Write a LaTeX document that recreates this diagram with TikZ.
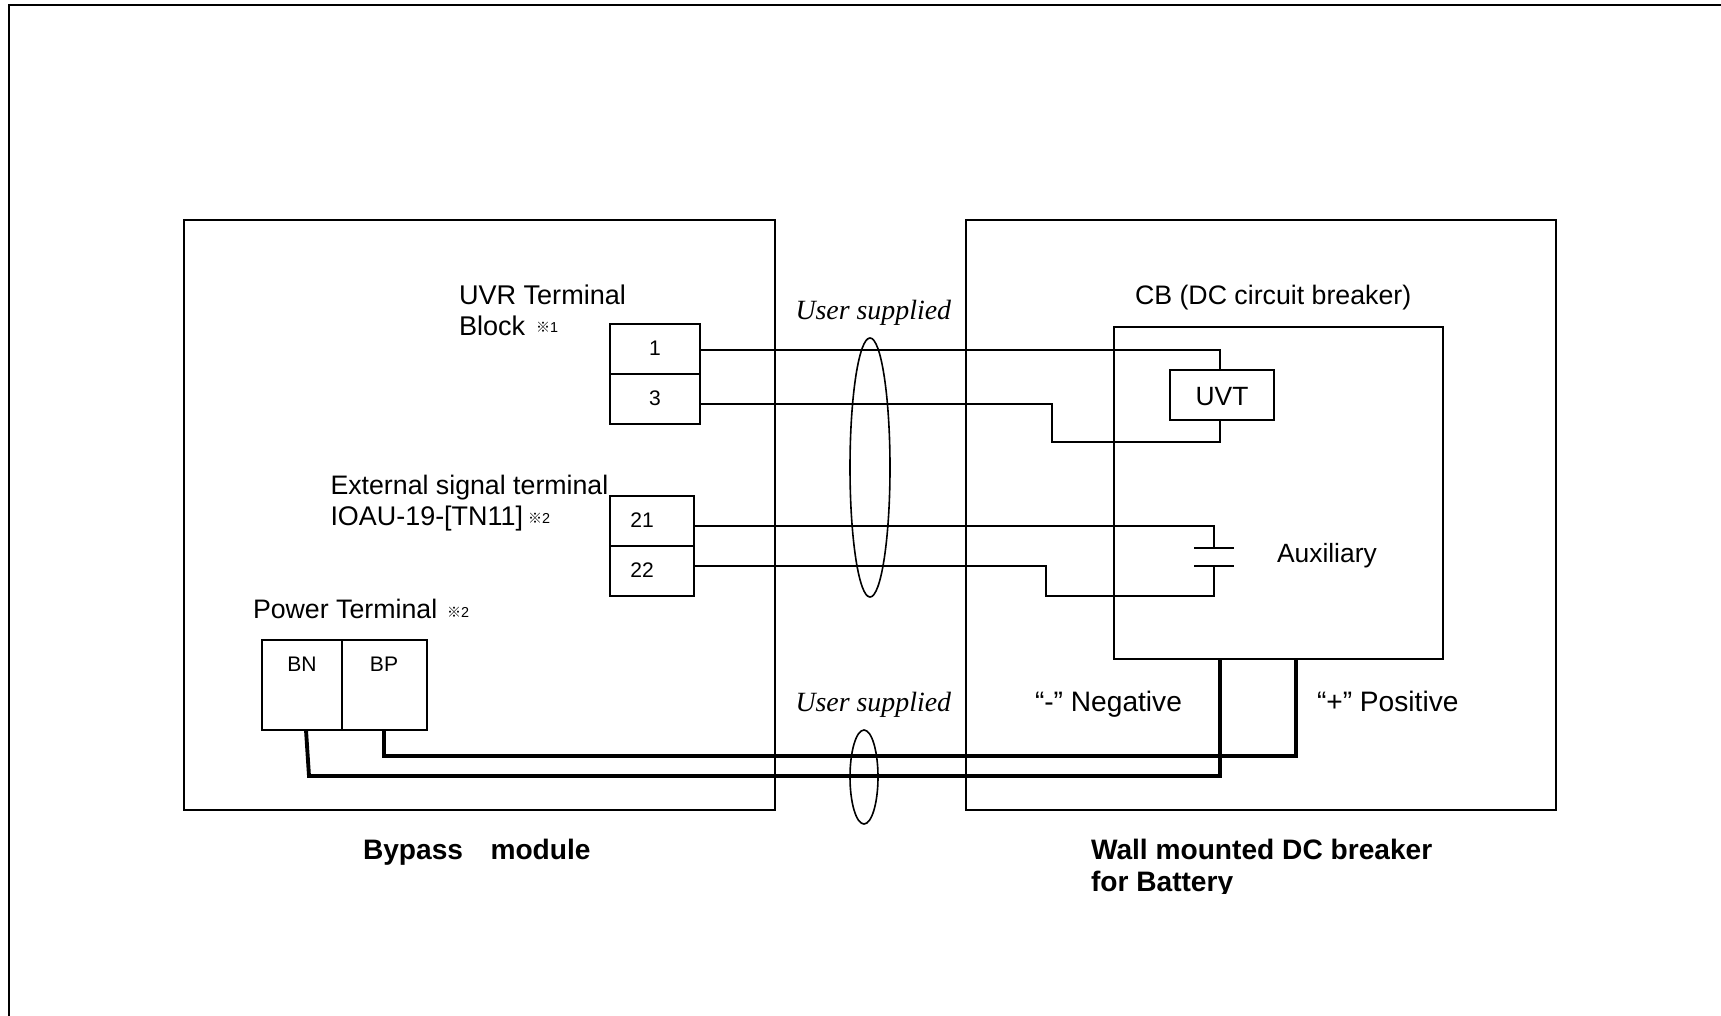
\documentclass[tikz,border=0pt]{standalone}
\usepackage{fontspec}
\setmainfont{Liberation Sans}
\newfontfamily\serifface{Liberation Serif}
\newfontfamily\cjkface{Noto Sans CJK JP}
\usetikzlibrary{calc,shapes.geometric}
\newcommand{\fpx}[1]{\fontsize{#1}{#1}\selectfont}
\newcommand{\refmark}[1]{{\cjkface\fpx{10.5}※}{\fpx{10.8}#1}}
\tikzset{
  x=0.75pt,y=-0.75pt,
  frameline/.style={line width=1.5pt,line cap=butt},
  wire/.style={line width=1.2pt,line join=miter},
  powerwire/.style={line width=2.9pt,line join=miter},
  boxnode/.style={draw,line width=1.2pt,rectangle,inner sep=0pt,outer sep=0pt},
  txt/.style={anchor=base west,inner sep=0pt,outer sep=0pt,font=\fpx{20.05}},
  bigtxt/.style={anchor=base west,inner sep=0pt,outer sep=0pt,font=\fpx{21.1}},
  boldtxt/.style={anchor=base west,inner sep=0pt,outer sep=0pt,font=\fpx{21.1}\bfseries},
  termtxt/.style={anchor=base,inner sep=0pt,outer sep=0pt,font=\fpx{15.8}},
  refnote/.style={anchor=base west,inner sep=0pt,outer sep=0pt},
  usertxt/.style={anchor=base west,inner sep=0pt,outer sep=0pt,font=\serifface\itshape\fpx{20.9}},
  bundle/.style={draw,ellipse,line width=1.2pt,inner sep=0pt,outer sep=0pt},
}
\begin{document}
\begin{tikzpicture}
\useasboundingbox (0,0) rectangle (1721,1016);
\fill[white] (0,0) rectangle (1721,1016);
% outer frame
\coordinate (ftr) at (1721,5);
\coordinate (ftl) at (9,5);
\coordinate (fbl) at (9,1016);
\draw[frameline] (ftr) -- (ftl) -- (fbl);
% module boxes
\node[boxnode,minimum width=591*0.75pt,minimum height=590*0.75pt] (bypass) at (479.5,515) {};
\node[boxnode,minimum width=590*0.75pt,minimum height=590*0.75pt] (wall) at (1261,515) {};
\node[boxnode,minimum width=329*0.75pt,minimum height=332*0.75pt] (cb) at (1278.5,493) {};
% terminals
\node[boxnode,minimum width=90*0.75pt,minimum height=50*0.75pt] (t1) at (655,349) {};
\node[boxnode,minimum width=90*0.75pt,minimum height=50*0.75pt] (t3) at (655,399) {};
\node[boxnode,minimum width=84*0.75pt,minimum height=50*0.75pt] (t21) at (652,521) {};
\node[boxnode,minimum width=84*0.75pt,minimum height=50*0.75pt] (t22) at (652,571) {};
\node[boxnode,minimum width=80*0.75pt,minimum height=90*0.75pt] (bn) at (302,685) {};
\node[boxnode,minimum width=85*0.75pt,minimum height=90*0.75pt] (bp) at (384.5,685) {};
\node[boxnode,minimum width=104*0.75pt,minimum height=50*0.75pt] (uvt) at (1222,395) {};
% contact
\coordinate (pa) at (1214,548);
\coordinate (pb) at (1214,566);
\coordinate (pal) at (1194,548);
\coordinate (par) at (1234,548);
\coordinate (pbl) at (1194,566);
\coordinate (pbr) at (1234,566);
\draw[wire] (pal) -- (par);
\draw[wire] (pbl) -- (pbr);
% signal wires
\coordinate (w1) at (1220,350);
\coordinate (w3a) at (1052,404);
\coordinate (w3b) at (1052,442);
\coordinate (w3c) at (1220,442);
\coordinate (w21) at (1214,526);
\coordinate (w22a) at (1046,566);
\coordinate (w22b) at (1046,596);
\coordinate (w22c) at (1214,596);
\draw[wire] (t1.east |- w1) -- (w1) -- (w1 |- uvt.north);
\draw[wire] (t3.east |- w3a) -- (w3a) -- (w3b) -- (w3c) -- (w3c |- uvt.south);
\draw[wire] (t21.east |- w21) -- (w21) -- (pa);
\draw[wire] (t22.east |- w22a) -- (w22a) -- (w22b) -- (w22c) -- (pb);
% power wires
\coordinate (n0) at (306,730);
\coordinate (n1) at (309,776);
\coordinate (n2) at (1220,776);
\coordinate (p0) at (384,730);
\coordinate (p1) at (384,756);
\coordinate (p2) at (1296,756);
\draw[powerwire] (n0) -- (n1) -- (n2) -- (n2 |- cb.south);
\draw[powerwire] (p0) -- (p1) -- (p2) -- (p2 |- cb.south);
% bundles
\node[bundle,minimum width=40*0.75pt,minimum height=259*0.75pt] (e1) at (870,467.5) {};
\node[bundle,minimum width=28*0.75pt,minimum height=94*0.75pt] (e2) at (864,777) {};
% labels
\node[txt,font=\fpx{20.3}] (l1) at (459,304.5) {UVR Terminal};
\node[txt,font=\fpx{20.3}] (l2) at (459,335.5) {Block};
\node[refnote] (m1) at (536,333) {\refmark{1}};
\node[txt] (l3) at (330.5,494) {External signal terminal};
\node[txt,font=\fpx{20.2}] (l4) at (330.5,525) {IOAU-19-[TN11]};
\node[refnote] (m2) at (528,523) {\refmark{2}};
\node[txt] (l5) at (253,618) {Power Terminal};
\node[refnote] (m3) at (447,617) {\refmark{2}};
\node[termtxt] (n1t) at (655,355) {1};
\node[termtxt] (n3t) at (655,405) {3};
\node[termtxt] (n21t) at (642,527) {21};
\node[termtxt] (n22t) at (642,577) {22};
\node[termtxt] (nbn) at (302,671) {BN};
\node[termtxt] (nbp) at (384,671) {BP};
\node[txt] (l6) at (1135,304.5) {CB (DC circuit breaker)};
\node[txt,anchor=base,font=\fpx{19.8}] (l7) at (1222,405) {UVT};
\node[txt,font=\fpx{19.8}] (l8) at (1277,562) {Auxiliary};
\node[bigtxt] (l9) at (1035,711) {“-” Negative};
\node[bigtxt] (l10) at (1317,711) {“+” Positive};
\node[usertxt] (u1) at (795.5,319.5) {User supplied};
\node[usertxt] (u2) at (795.5,711) {User supplied};
\node[boldtxt] (b1) at (363,859) {Bypass\hspace{20.6pt}module};
\node[boldtxt] (b2) at (1091,859) {Wall mounted DC breaker};
\begin{scope}
\clip (1000,860) rectangle (1400,893);
\node[boldtxt] (b3) at (1091,891) {for Battery};
\end{scope}
\end{tikzpicture}
\end{document}
